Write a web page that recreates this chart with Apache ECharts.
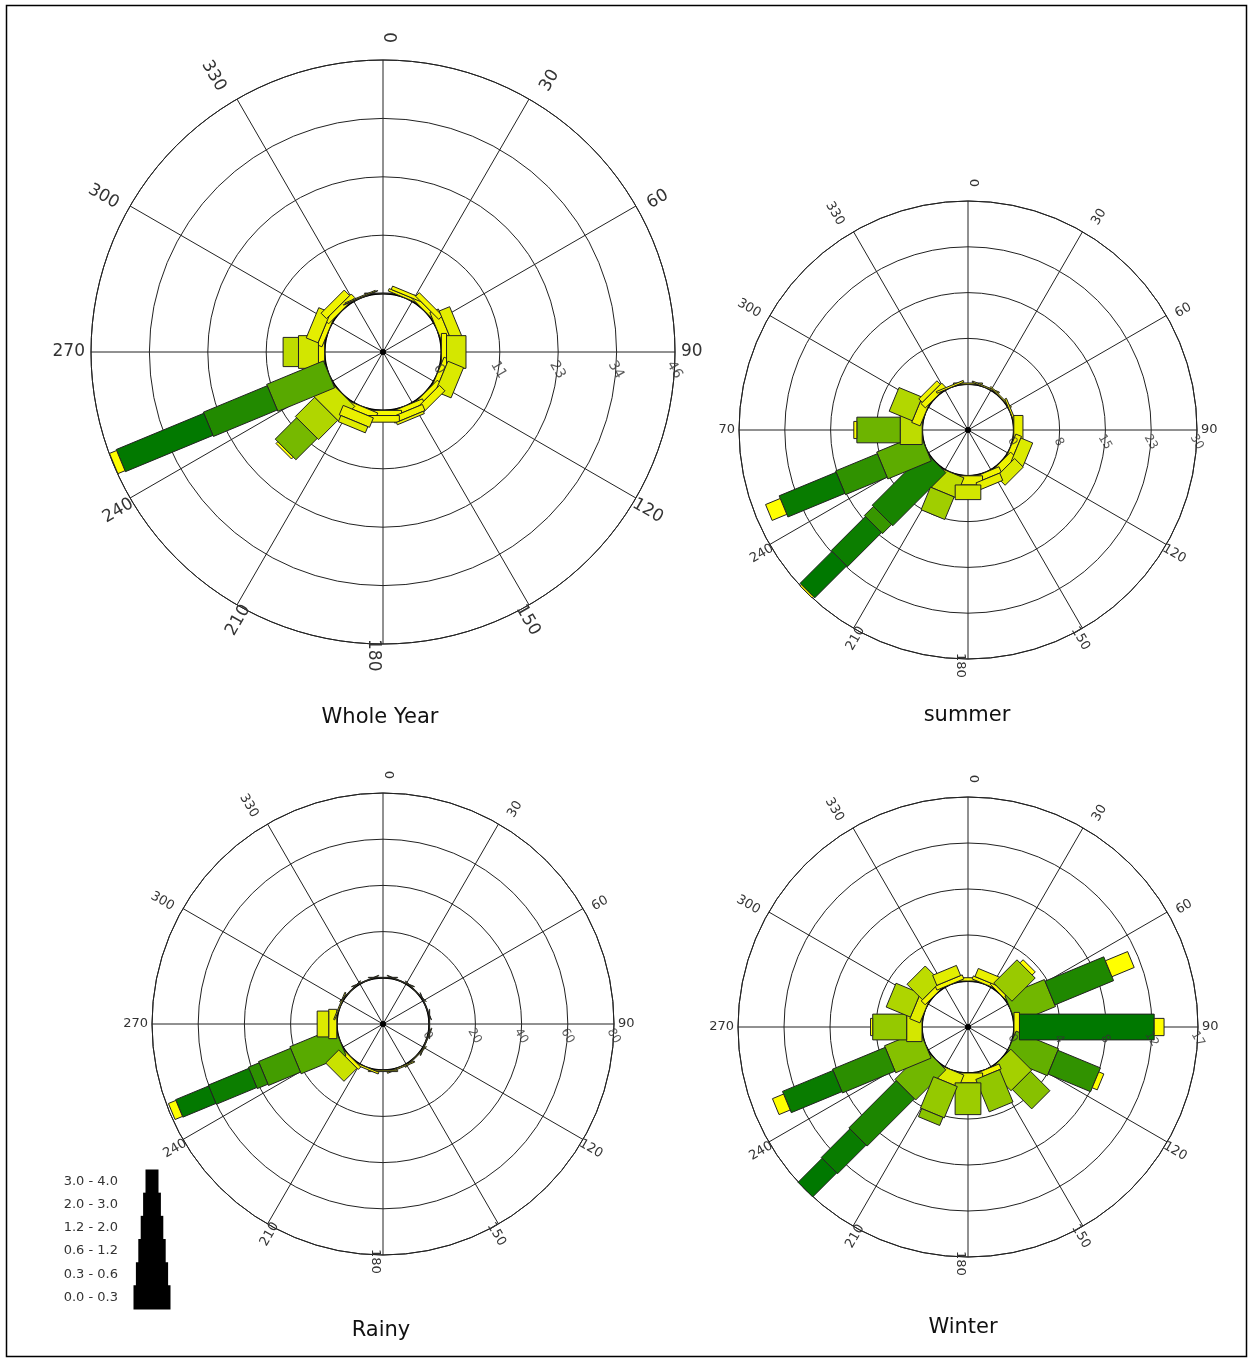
<!DOCTYPE html>
<html>
<head>
<meta charset="utf-8">
<script src="https://cdn.jsdelivr.net/npm/echarts@6/dist/echarts.min.js"></script>
<style>
  html, body { margin: 0; padding: 0; background: #fff; }
  #chart { width: 1252px; height: 1361px; }
</style>
</head>
<body>
<div id="chart"></div>
<script>
// Wind direction sectors (degrees from north, clockwise)
const directions = [0, 22.5, 45, 67.5, 90, 112.5, 135, 157.5, 180, 202.5, 225, 247.5, 270, 292.5, 315, 337.5];

// Compass ticks and their labels
const compassTicks = [0, 30, 60, 90, 120, 150, 180, 210, 240, 270, 300, 330];
const compassLabels = ['0', '30', '60', '90', '120', '150', '180', '210', '240', '270', '300', '330'];
const summerCompassLabels = ['0', '30', '60', '90', '120', '150', '180', '210', '240', '70', '300', '330'];

// Wind speed classes (m/s), lowest first
const speedClasses = ['0.0 - 0.3', '0.3 - 0.6', '0.6 - 1.2', '1.2 - 2.0', '2.0 - 3.0', '3.0 - 4.0'];

// Frequency ring labels (%) for each rose
const wholeYearRings = ['0', '11', '23', '34', '46'];
const summerRings = ['0', '8', '15', '23', '30'];
const rainyRings = ['0', '20', '40', '60', '80'];
const winterRings = ['0', '4', '8', '12', '17'];

// Frequency (%) per direction sector; one row per speed class, lowest class first
//                 0   22.5  45  67.5   90 112.5 135 157.5 180 202.5  225 247.5  270 292.5 315 337.5
const wholeYearFreq = [
  [0.1, 0.5, 0.8, 1.8, 1.0, 1.0, 1.0, 1.0, 1.0, 1.2, 4.3, 0.0, 1.2, 1.0, 1.0, 0.1],
  [0.0, 0.7, 1.0, 2.2, 3.8, 3.3, 1.5, 1.3, 1.3, 2.0, 5.3, 0.0, 3.9, 2.5, 1.5, 0.2],
  [0.0, 0.0, 0.0, 0.0, 0.0, 0.0, 0.0, 0.5, 0.0, 1.3, 5.9, 12.0, 3.0, 0.0, 0.0, 0.0],
  [0.0, 0.0, 0.0, 0.0, 0.0, 0.0, 0.0, 0.0, 0.0, 0.0, 0.0, 13.5, 0.0, 0.0, 0.0, 0.0],
  [0.0, 0.0, 0.0, 0.0, 0.0, 0.0, 0.0, 0.0, 0.0, 0.0, 0.0, 18.5, 0.0, 0.0, 0.0, 0.0],
  [0.0, 0.0, 0.0, 0.0, 0.0, 0.0, 0.0, 0.0, 0.0, 0.0, 0.5, 1.5, 0.0, 0.0, 0.0, 0.0]
];
const summerFreq = [
  [0.2, 0.2, 0.2, 0.3, 1.5, 1.0, 1.2, 1.0, 1.5, 3.5, 12.3, 7.7, 3.6, 1.5, 1.0, 0.3],
  [0.0, 0.0, 0.0, 0.0, 0.0, 2.1, 2.0, 1.3, 2.4, 4.0, 2.1, 7.4, 7.1, 4.1, 0.8, 0.0],
  [0.0, 0.0, 0.0, 0.0, 0.0, 0.0, 0.0, 0.0, 0.0, 0.0, 7.9, 10.1, 0.0, 0.0, 0.0, 0.0],
  [0.0, 0.0, 0.0, 0.0, 0.0, 0.0, 0.0, 0.0, 0.0, 0.0, 7.4, 0.0, 0.0, 0.0, 0.0, 0.0],
  [0.0, 0.0, 0.0, 0.0, 0.0, 0.0, 0.0, 0.0, 0.0, 0.0, 0.0, 0.0, 0.0, 0.0, 0.0, 0.0],
  [0.0, 0.0, 0.0, 0.0, 0.0, 0.0, 0.0, 0.0, 0.0, 0.0, 0.3, 2.6, 0.5, 0.0, 0.0, 0.0]
];
const rainyFreq = [
  [0.2, 0.2, 0.1, 0.1, 0.2, 0.3, 0.3, 0.5, 0.6, 0.8, 1.5, 21.0, 3.5, 0.5, 0.2, 0.2],
  [0.0, 0.0, 0.0, 0.0, 0.0, 0.0, 0.0, 0.0, 0.0, 0.0, 8.0, 15.0, 5.0, 0.0, 0.0, 0.0],
  [0.0, 0.0, 0.0, 0.0, 0.0, 0.0, 0.0, 0.0, 0.0, 0.0, 0.0, 5.0, 0.0, 0.0, 0.0, 0.0],
  [0.0, 0.0, 0.0, 0.0, 0.0, 0.0, 0.0, 0.0, 0.0, 0.0, 0.0, 19.0, 0.0, 0.0, 0.0, 0.0],
  [0.0, 0.0, 0.0, 0.0, 0.0, 0.0, 0.0, 0.0, 0.0, 0.0, 0.0, 15.5, 0.0, 0.0, 0.0, 0.0],
  [0.0, 0.0, 0.0, 0.0, 0.0, 0.0, 0.0, 0.0, 0.0, 0.0, 0.0, 3.5, 0.0, 0.0, 0.0, 0.0]
];
const winterFreq = [
  [0.3, 0.3, 0.3, 3.9, 0.5, 4.2, 2.7, 0.5, 0.9, 1.2, 3.9, 3.5, 1.4, 1.0, 0.5, 0.4],
  [0.0, 0.8, 3.0, 5.8, 12.3, 4.2, 2.5, 3.2, 2.9, 3.1, 6.1, 5.2, 3.1, 2.4, 2.0, 1.0],
  [0.0, 0.0, 0.0, 0.0, 0.0, 0.0, 0.0, 0.0, 0.0, 0.8, 3.7, 5.0, 0.0, 0.0, 0.0, 0.0],
  [0.0, 0.0, 0.0, 0.0, 0.0, 0.0, 0.0, 0.0, 0.0, 0.0, 3.1, 0.0, 0.0, 0.0, 0.0, 0.0],
  [0.0, 0.0, 0.0, 0.0, 0.0, 0.0, 0.0, 0.0, 0.0, 0.0, 0.0, 0.0, 0.0, 0.0, 0.0, 0.0],
  [0.0, 0.0, 0.4, 2.2, 0.9, 0.5, 0.0, 0.0, 0.0, 0.0, 0.0, 1.1, 0.2, 0.0, 0.0, 0.0]
];

// Layout of the four roses
const FONT = 'DejaVu Sans';
const panels = [
  { title: 'Whole Year', freq: wholeYearFreq, labels: compassLabels, rings: wholeYearRings, step: 11.4,
    center: [383, 352], radius: 292, titleAt: [380, 718], font: 17, ringFont: 14,
    gap: 6, lift: 11, drop: 10, ringOff: 18 },
  { title: 'summer', freq: summerFreq, labels: summerCompassLabels, rings: summerRings, step: 7.5,
    center: [968, 430], radius: 229, titleAt: [967, 716], font: 13, ringFont: 12,
    gap: 4, lift: 10, drop: 8, ringOff: 12 },
  { title: 'Rainy', freq: rainyFreq, labels: compassLabels, rings: rainyRings, step: 20,
    center: [383, 1024], radius: 231, titleAt: [381, 1331], font: 13, ringFont: 12,
    gap: 4, lift: 10, drop: 8, ringOff: 12 },
  { title: 'Winter', freq: winterFreq, labels: compassLabels, rings: winterRings, step: 4.2,
    center: [968, 1027], radius: 230, titleAt: [963, 1328], font: 13, ringFont: 12,
    gap: 4, lift: 10, drop: 8, ringOff: 12 }
];

// Bar width of each speed class, as a share of the rose radius
const classWidth = [0.127, 0.112, 0.1, 0.09, 0.082, 0.075];

// Fill ramp: yellow for light shares, deep green for heavy ones
const ramp = [[0, '#ffff00'], [0.06, '#eef200'], [0.12, '#d6e800'], [0.2, '#b4d800'], [0.3, '#8cc400'],
  [0.4, '#55a800'], [0.52, '#2a8e00'], [0.65, '#118000'], [1, '#007800']];
function hexToRgb(h) { return [1, 3, 5].map(i => parseInt(h.substr(i, 2), 16)); }
function rampColor(f) {
  f = Math.max(0, Math.min(1, f));
  for (let i = 1; i < ramp.length; i++) {
    if (f <= ramp[i][0]) {
      const t = (f - ramp[i - 1][0]) / (ramp[i][0] - ramp[i - 1][0]);
      const a = hexToRgb(ramp[i - 1][1]), b = hexToRgb(ramp[i][1]);
      return 'rgb(' + a.map((v, k) => Math.round(v + (b[k] - v) * t)).join(',') + ')';
    }
  }
  return ramp[ramp.length - 1][1];
}

// Stack the speed classes outward from the calm circle
function buildSegments(freq) {
  const out = [];
  const acc = directions.map(() => 0);
  freq.forEach((row, cls) => {
    row.forEach((v, d) => {
      if (v > 0) {
        out.push([acc[d], directions[d], acc[d] + v, cls]);
        acc[d] += v;
      }
    });
  });
  return out;
}

function segmentRenderer(p) {
  const top = 4 * p.step;
  return function (params, api) {
    const r0 = api.value(0), dir = api.value(1), r1 = api.value(2), cls = api.value(3);
    const a = api.coord([r0, dir]);
    const b = api.coord([r1, dir]);
    const c = api.coord([-p.step, 0]);
    const e = api.coord([top, 0]);
    const R = Math.hypot(e[0] - c[0], e[1] - c[1]);
    const half = R * classWidth[cls] / 2;
    const dx = b[0] - a[0], dy = b[1] - a[1];
    const L = Math.hypot(dx, dy) || 1;
    const nx = -dy / L * half, ny = dx / L * half;
    const shade = Math.max(r1 / top, 1.5 * (r1 - r0) / top);
    const fill = cls === 5 ? '#ffff00' : rampColor(shade);
    return {
      type: 'polygon',
      shape: { points: [[a[0] + nx, a[1] + ny], [b[0] + nx, b[1] + ny], [b[0] - nx, b[1] - ny], [a[0] - nx, a[1] - ny]] },
      style: { fill: fill, stroke: '#222', lineWidth: 1 }
    };
  };
}

// Calm circle and centre dot
function calmRenderer(p) {
  return function (params, api) {
    const c = api.coord([-p.step, 0]);
    const h = api.coord([0, 0]);
    const r = Math.hypot(h[0] - c[0], h[1] - c[1]);
    return {
      type: 'group',
      children: [
        { type: 'circle', shape: { cx: c[0], cy: c[1], r: r }, style: { fill: 'none', stroke: '#000', lineWidth: 1.8 } },
        { type: 'circle', shape: { cx: c[0], cy: c[1], r: 3 }, style: { fill: '#000' } }
      ]
    };
  };
}

// Compass labels, written along the radius just outside the rim
function compassRenderer(p) {
  return function (params, api) {
    const t = api.value(0), k = api.value(1);
    const c = api.coord([-p.step, 0]);
    const e = api.coord([4 * p.step, t]);
    const dx = e[0] - c[0], dy = e[1] - c[1];
    const L = Math.hypot(dx, dy) || 1;
    const ux = dx / L, uy = dy / L;
    const right = t <= 180;
    const rot = (right ? 90 - t : 270 - t) * Math.PI / 180;
    const out = p.gap + p.lift * Math.cos(t * Math.PI / 180);
    const down = p.drop * Math.abs(Math.sin(rot));
    return {
      type: 'text',
      x: e[0] + ux * out + Math.sin(rot) * down,
      y: e[1] + uy * out + Math.cos(rot) * down,
      rotation: rot,
      style: {
        text: p.labels[k], align: right ? 'left' : 'right', verticalAlign: 'middle',
        font: p.font + 'px "DejaVu Sans"', fill: '#333'
      }
    };
  };
}

const polar = [], angleAxis = [], radiusAxis = [], series = [], graphic = [];

panels.forEach((p, i) => {
  polar.push({ center: p.center, radius: p.radius });
  angleAxis.push({
    polarIndex: i, type: 'value', min: 0, max: 360, interval: 30, startAngle: 90, clockwise: true,
    axisLine: { show: true, lineStyle: { color: '#222', width: 1 } },
    axisTick: { show: false }, axisLabel: { show: false },
    splitLine: { show: true, lineStyle: { color: '#222', width: 1 } }
  });
  radiusAxis.push({
    polarIndex: i, type: 'value', min: -p.step, max: 4 * p.step, interval: p.step,
    axisLine: { show: false }, axisTick: { show: false }, axisLabel: { show: false },
    splitLine: { show: true, lineStyle: { color: '#222', width: 1 } }
  });

  series.push({
    type: 'custom', coordinateSystem: 'polar', polarIndex: i, silent: true, z: 2,
    data: [[0, 0]], renderItem: calmRenderer(p)
  });
  series.push({
    type: 'custom', coordinateSystem: 'polar', polarIndex: i, silent: true, z: 3,
    encode: { radius: [0, 2], angle: 1 },
    data: buildSegments(p.freq), renderItem: segmentRenderer(p)
  });
  series.push({
    type: 'custom', coordinateSystem: 'polar', polarIndex: i, silent: true, z: 5,
    encode: { angle: 0 },
    data: compassTicks.map((t, k) => [t, k]), renderItem: compassRenderer(p)
  });

  // Ring labels just below the east spoke
  series.push({
    type: 'scatter', coordinateSystem: 'polar', polarIndex: i, silent: true, z: 5,
    symbolSize: 1, itemStyle: { color: 'rgba(0,0,0,0)' },
    data: p.rings.map((txt, k) => {
      const rpx = (k + 1) * p.radius / 5;
      return { name: txt, value: [k * p.step, 90 + Math.atan(p.ringOff / rpx) * 180 / Math.PI] };
    }),
    label: { show: true, position: 'inside', formatter: '{b}', rotate: -60, align: 'center',
      verticalAlign: 'middle', color: '#333', fontSize: p.ringFont, fontFamily: FONT }
  });

  graphic.push({
    type: 'text', x: p.titleAt[0], y: p.titleAt[1], silent: true,
    style: { text: p.title, align: 'center', verticalAlign: 'middle', font: '21px "DejaVu Sans"', fill: '#111' }
  });
});

// Speed-class key: stepped pyramid, widest step for the calmest class
const keyWidth = i => 37 - i * 4.8;
series.push({
  type: 'custom', coordinateSystem: 'cartesian2d', xAxisIndex: 0, yAxisIndex: 0, silent: true,
  encode: { x: 0, y: 1 },
  data: speedClasses.map((_, i) => [0, i]),
  renderItem: function (params, api) {
    const idx = api.value(1);
    const w = keyWidth(idx) / 2;
    const l = api.coord([-w, idx]);
    const r = api.coord([w, idx]);
    const h = api.size([0, 1])[1];
    return { type: 'rect', shape: { x: l[0], y: l[1] - h / 2 - 0.5, width: r[0] - l[0], height: h + 1 },
      style: { fill: '#000' } };
  }
});

graphic.push({
  type: 'rect', silent: true, z: 0,
  shape: { x: 6.5, y: 5.5, width: 1240, height: 1351 },
  style: { fill: 'none', stroke: '#000', lineWidth: 1.5 }
});

const chart = echarts.init(document.getElementById('chart'), null, { renderer: 'canvas' });
chart.setOption({
  animation: false,
  backgroundColor: '#fff',
  polar: polar,
  angleAxis: angleAxis,
  radiusAxis: radiusAxis,
  grid: [{ left: 130, top: 1170, width: 44, height: 139 }],
  xAxis: [{ type: 'value', min: -22, max: 22, show: false }],
  yAxis: [{ type: 'category', data: speedClasses, axisLine: { show: false }, axisTick: { show: false },
    splitLine: { show: false },
    axisLabel: { margin: 12, fontSize: 13, color: '#333', fontFamily: FONT } }],
  series: series,
  graphic: graphic
});
</script>
</body>
</html>
